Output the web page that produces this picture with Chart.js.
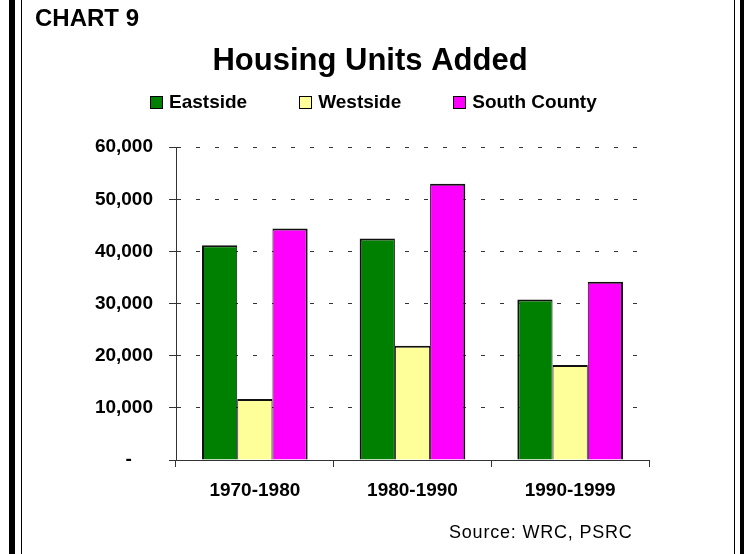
<!DOCTYPE html>
<html><head><meta charset="utf-8">
<script src="https://cdn.jsdelivr.net/npm/chart.js@4.4.1/dist/chart.umd.min.js"></script>
<style>
html,body{margin:0;padding:0;background:#fff;}
#page{position:relative;width:744px;height:554px;overflow:hidden;background:#fff;font-family:"Liberation Sans",Arial,sans-serif;color:#000;}
canvas{position:absolute;left:0;top:0;}
.rule{position:absolute;top:0;height:554px;background:#000;}
#chartno{position:absolute;left:35px;top:4px;font-weight:bold;font-size:24px;line-height:27px;white-space:nowrap;}
#legend{position:absolute;left:150px;top:91px;display:flex;gap:52px;font-weight:bold;font-size:19px;line-height:22px;white-space:nowrap;}
.item{display:flex;align-items:center;}
.sw{width:11px;height:11px;border:1px solid #000;margin-right:6px;}
#source{position:absolute;left:449px;top:521px;font-size:18px;line-height:22px;letter-spacing:0.8px;white-space:nowrap;}
</style></head>
<body><div id="page">
<canvas id="c" width="744" height="554"></canvas>
<div class="rule" style="left:9px;width:6px"></div>
<div class="rule" style="left:21px;width:1px"></div>
<div class="rule" style="left:734px;width:1px"></div>
<div class="rule" style="left:740px;width:4px"></div>
<div id="chartno">CHART 9</div>
<div id="legend"></div>
<div id="source">Source: WRC, PSRC</div>
</div>
<script>
const categories = ['1970-1980', '1980-1990', '1990-1999'];
const seriesNames = ['Eastside', 'Westside', 'South County'];
const eastside = [41200, 42500, 30800];
const westside = [11700, 21900, 18200];
const southCounty = [44400, 53000, 34200];
const yTickValues = [0, 10000, 20000, 30000, 40000, 50000, 60000];
const yTickLabels = ['-    ', '10,000', '20,000', '30,000', '40,000', '50,000', '60,000'];

const colors = ['#008000', '#FFFF99', '#FF00FF'];
const seriesData = [eastside, westside, southCounty];
const borderWidths = [
  {top: 2, left: 2, right: 1, bottom: 0},
  {top: 2, left: 1, right: 1, bottom: 0},
  {top: 2, left: 1, right: 2, bottom: 0}
];
const FAMILY = '"Liberation Sans", Arial, sans-serif';

// HTML legend
const legendEl = document.getElementById('legend');
seriesNames.forEach((name, i) => {
  const item = document.createElement('div');
  item.className = 'item';
  const sw = document.createElement('span');
  sw.className = 'sw';
  sw.style.background = colors[i];
  const tx = document.createElement('span');
  tx.textContent = name;
  item.appendChild(sw); item.appendChild(tx);
  legendEl.appendChild(item);
});

new Chart(document.getElementById('c'), {
  type: 'bar',
  data: {
    labels: categories,
    datasets: seriesNames.map((name, i) => ({
      label: name,
      data: seriesData[i],
      backgroundColor: colors[i],
      borderColor: '#111',
      borderWidth: borderWidths[i],
      inflateAmount: 0,
      categoryPercentage: 0.67,
      barPercentage: 1.0
    }))
  },
  options: {
    responsive: false,
    animation: false,
    devicePixelRatio: 1,
    layout: {padding: {left: 91, right: 95, top: 0, bottom: 0}},
    plugins: {
      legend: {display: false},
      tooltip: {enabled: false},
      title: {
        display: true,
        text: 'Housing Units Added',
        color: '#000',
        font: {family: FAMILY, size: 31, weight: 'bold', lineHeight: 1.2},
        padding: {top: 43, bottom: 67}
      }
    },
    scales: {
      x: {
        grid: {display: true, drawOnChartArea: false, drawTicks: true, tickLength: 7, tickColor: '#333', offset: true},
        border: {display: true, color: '#333', width: 1},
        ticks: {color: '#000', font: {family: FAMILY, size: 19, weight: 'bold'}, padding: 12, maxRotation: 0},
        afterFit(s) { s.height = 94; }
      },
      y: {
        min: 0, max: 60000,
        afterBuildTicks(s) { s.ticks = yTickValues.map(v => ({value: v})); },
        ticks: {
          color: '#000',
          font: {family: FAMILY, size: 19, weight: 'bold'},
          padding: 16,
          callback: (v) => yTickLabels[yTickValues.indexOf(v)]
        },
        grid: {color: '#333', lineWidth: 1, tickLength: 7, tickColor: '#333', tickBorderDash: []},
        border: {display: true, color: '#333', width: 1, dash: [4, 15]},
        afterFit(s) { s.width = 85; }
      }
    }
  }
});
</script>
</body></html>
